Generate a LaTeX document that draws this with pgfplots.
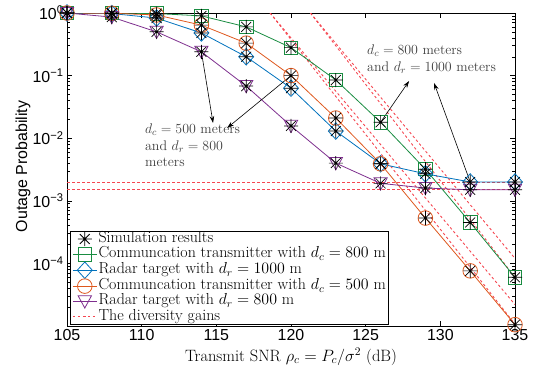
\RequirePackage{fix-cm}
\documentclass[border=0pt]{standalone}
\usepackage{fontspec}
\setsansfont{Liberation Sans}
\usepackage{pgfplots}
\pgfplotsset{compat=1.18}
\usetikzlibrary{arrows.meta}

\definecolor{mgreen}{RGB}{25,140,65}
\definecolor{mblue}{RGB}{0,114,189}
\definecolor{morange}{RGB}{222,88,30}
\definecolor{mpurple}{RGB}{126,47,142}
\definecolor{mred}{RGB}{245,70,80}

\pgfdeclareplotmark{ast8}{%
 \pgfpathmoveto{\pgfqpoint{-\pgfplotmarksize}{0pt}}\pgfpathlineto{\pgfqpoint{\pgfplotmarksize}{0pt}}%
 \pgfpathmoveto{\pgfqpoint{0pt}{-\pgfplotmarksize}}\pgfpathlineto{\pgfqpoint{0pt}{\pgfplotmarksize}}%
 \pgfpathmoveto{\pgfqpoint{-.7071\pgfplotmarksize}{-.7071\pgfplotmarksize}}\pgfpathlineto{\pgfqpoint{.7071\pgfplotmarksize}{.7071\pgfplotmarksize}}%
 \pgfpathmoveto{\pgfqpoint{-.7071\pgfplotmarksize}{.7071\pgfplotmarksize}}\pgfpathlineto{\pgfqpoint{.7071\pgfplotmarksize}{-.7071\pgfplotmarksize}}%
 \pgfusepathqstroke}
\pgfdeclareplotmark{mdiamond}{%
 \pgfpathmoveto{\pgfqpoint{0pt}{1.1\pgfplotmarksize}}\pgfpathlineto{\pgfqpoint{\pgfplotmarksize}{0pt}}%
 \pgfpathlineto{\pgfqpoint{0pt}{-1.1\pgfplotmarksize}}\pgfpathlineto{\pgfqpoint{-\pgfplotmarksize}{0pt}}%
 \pgfpathclose\pgfusepathqstroke}
\pgfdeclareplotmark{mtridown}{%
 \pgfpathmoveto{\pgfqpoint{-.95\pgfplotmarksize}{.8\pgfplotmarksize}}\pgfpathlineto{\pgfqpoint{.95\pgfplotmarksize}{.8\pgfplotmarksize}}%
 \pgfpathlineto{\pgfqpoint{0pt}{-.95\pgfplotmarksize}}%
 \pgfpathclose\pgfusepathqstroke}

\pgfplotstableread{
x green orange blue purple
105 1.0   1.0     1.0    1.0
108 0.997 0.99    0.98   0.86
111 0.98  0.93    0.83   0.5
114 0.9   0.64    0.48   0.24
117 0.6   0.33    0.2    0.068
120 0.28  0.1     0.063  0.0157
123 0.085 0.021   0.013  0.004
126 0.018 0.0039  0.0039 0.0019
129 0.0032 5.3e-4 0.0027 0.0016
132 4.5e-4 7.6e-5 0.002  0.0015
135 6e-5   1.05e-5 0.002 0.0015
}\datatab

\begin{document}
\begin{tikzpicture}
\begin{axis}[
 name=ax, scale only axis, width=448bp, height=313bp,
 ymode=log, xmin=105, xmax=135, ymin=1e-5, ymax=1,
 xtick={105,110,115,120,125,130,135},
 xticklabels={105,110,115,120,125,130,135},
 ytick={1e-4,1e-3,1e-2,1e-1,1},
 yticklabels={10\textsuperscript{−4},10\textsuperscript{−3},10\textsuperscript{−2},10\textsuperscript{−1},10\textsuperscript{0}},
 minor ytick={2e-5,3e-5,4e-5,5e-5,6e-5,7e-5,8e-5,9e-5,2e-4,3e-4,4e-4,5e-4,6e-4,7e-4,8e-4,9e-4,2e-3,3e-3,4e-3,5e-3,6e-3,7e-3,8e-3,9e-3,2e-2,3e-2,4e-2,5e-2,6e-2,7e-2,8e-2,9e-2,0.2,0.3,0.4,0.5,0.6,0.7,0.8,0.9},
 tick label style={font=\sffamily\fontsize{16}{16}\selectfont},
 major tick length=5bp, minor tick length=3bp,
 tick style={black, line width=0.5bp},
 axis line style={line width=0.8bp},
 xlabel={Transmit SNR $\rho_c = P_c/\sigma^2$ (dB)},
 xlabel style={font=\fontsize{16.5}{18}\selectfont, at={(rel axis cs:0.5,0)}, anchor=base, yshift=-35bp},
 legend cell align=left,
 legend style={at={(0.0067,0.003)}, anchor=south west, font=\fontsize{16}{16}\selectfont,
   draw=black, line width=0.8bp, inner xsep=2bp, inner ysep=0.3bp,
   nodes={inner sep=0.4bp, text height=10.8bp, text depth=3.7bp}, column sep=1bp},
 legend image code/.code={\draw[line width=0.8bp,mark repeat=2,mark phase=2,#1] plot coordinates {(0bp,0bp) (12bp,0bp) (24bp,0bp)};},
]
% diversity gain lines
\addplot[mred, line width=0.9bp, dash pattern=on 2.5bp off 2.5bp, forget plot] coordinates {(105,0.002) (135,0.002)};
\addplot[mred, line width=0.9bp, dash pattern=on 2.5bp off 2.5bp, forget plot] coordinates {(105,0.0015) (135,0.0015)};
\addplot[mred, line width=0.9bp, dash pattern=on 2.5bp off 2.5bp, forget plot] coordinates {(118.6,1) (135,1.07e-5)};
\addplot[mred, line width=0.9bp, dash pattern=on 2.5bp off 2.5bp, forget plot] coordinates {(118.6,1) (135,2.2e-5)};
\addplot[mred, line width=0.9bp, dash pattern=on 2.5bp off 2.5bp, forget plot] coordinates {(121.3,1) (135,6e-5)};
\addplot[mred, line width=0.9bp, dash pattern=on 2.5bp off 2.5bp, forget plot] coordinates {(121.3,1) (135,1.2e-4)};
% curves
\addplot[mgreen, line width=0.8bp, mark=square, mark size=6.7bp, mark options={solid}, forget plot] table[x=x,y=green] {\datatab};
\addplot[mblue, line width=0.8bp, mark=mdiamond, mark size=7.5bp, mark options={solid}, forget plot] table[x=x,y=blue] {\datatab};
\addplot[morange, line width=0.8bp, mark=o, mark size=7.3bp, mark options={solid}, forget plot] table[x=x,y=orange] {\datatab};
\addplot[mpurple, line width=0.8bp, mark=mtridown, mark size=7bp, mark options={solid}, forget plot] table[x=x,y=purple] {\datatab};
% simulation asterisks
\addplot[only marks, black, mark=ast8, mark size=7bp, line width=0.7bp, forget plot] table[x=x,y=green] {\datatab};
\addplot[only marks, black, mark=ast8, mark size=7bp, line width=0.7bp, forget plot] table[x=x,y=blue] {\datatab};
\addplot[only marks, black, mark=ast8, mark size=7bp, line width=0.7bp, forget plot] table[x=x,y=orange] {\datatab};
\addplot[only marks, black, mark=ast8, mark size=7bp, line width=0.7bp, forget plot] table[x=x,y=purple] {\datatab};

\addlegendimage{only marks, black, mark=ast8, mark size=7bp, line width=0.7bp}
\addlegendentry{Simulation results}
\addlegendimage{mgreen, mark=square, mark size=6.7bp, mark options={solid}}
\addlegendentry{Communcation transmitter with $d_c = 800$ m}
\addlegendimage{mblue, mark=mdiamond, mark size=7.5bp, mark options={solid}}
\addlegendentry{Radar target with $d_r = 1000$ m}
\addlegendimage{morange, mark=o, mark size=7.3bp, mark options={solid}}
\addlegendentry{Communcation transmitter with $d_c = 500$ m}
\addlegendimage{mpurple, mark=mtridown, mark size=7bp, mark options={solid}}
\addlegendentry{Radar target with $d_r = 800$ m}
\addlegendimage{mred, line width=0.9bp, dash pattern=on 2.5bp off 2.5bp}
\addlegendentry{The diversity gains}

% annotations
\draw[-{Stealth[length=7bp,width=4.5bp]}, line width=0.6bp] (axis cs:114,0.24) -- (axis cs:114.78,0.0175);
\draw[-{Stealth[length=7bp,width=4.5bp]}, line width=0.6bp] (axis cs:120,0.1) -- (axis cs:115.72,0.01455);
\draw[-{Stealth[length=7bp,width=4.5bp]}, line width=0.6bp] (axis cs:126,0.018) -- (axis cs:127.91,0.082);
\draw[-{Stealth[length=7bp,width=4.5bp]}, line width=0.6bp] (axis cs:132,0.002) -- (axis cs:129.58,0.0762);
\node[anchor=north west, align=left, font=\fontsize{14}{16.5}\selectfont, text=black!75, inner sep=0pt] at (axis cs:110.22,0.0169) {$d_c = 500$ meters\\and $d_r = 800$\\meters};
\node[anchor=north west, align=left, font=\fontsize{14}{16.5}\selectfont, text=black!75, inner sep=0pt] at (axis cs:125.09,0.308) {$d_c = 800$ meters\\and $d_r = 1000$ meters};
\end{axis}
\node[rotate=90, font=\sffamily\fontsize{16}{18}\selectfont] at ([shift={(-44bp,3bp)}]ax.west) {Outage Probability};
\pgfresetboundingbox
\path[use as bounding box] ([shift={(-67bp,-48bp)}]ax.south west) rectangle ([shift={(22bp,13bp)}]ax.north east);
\end{tikzpicture}
\end{document}
